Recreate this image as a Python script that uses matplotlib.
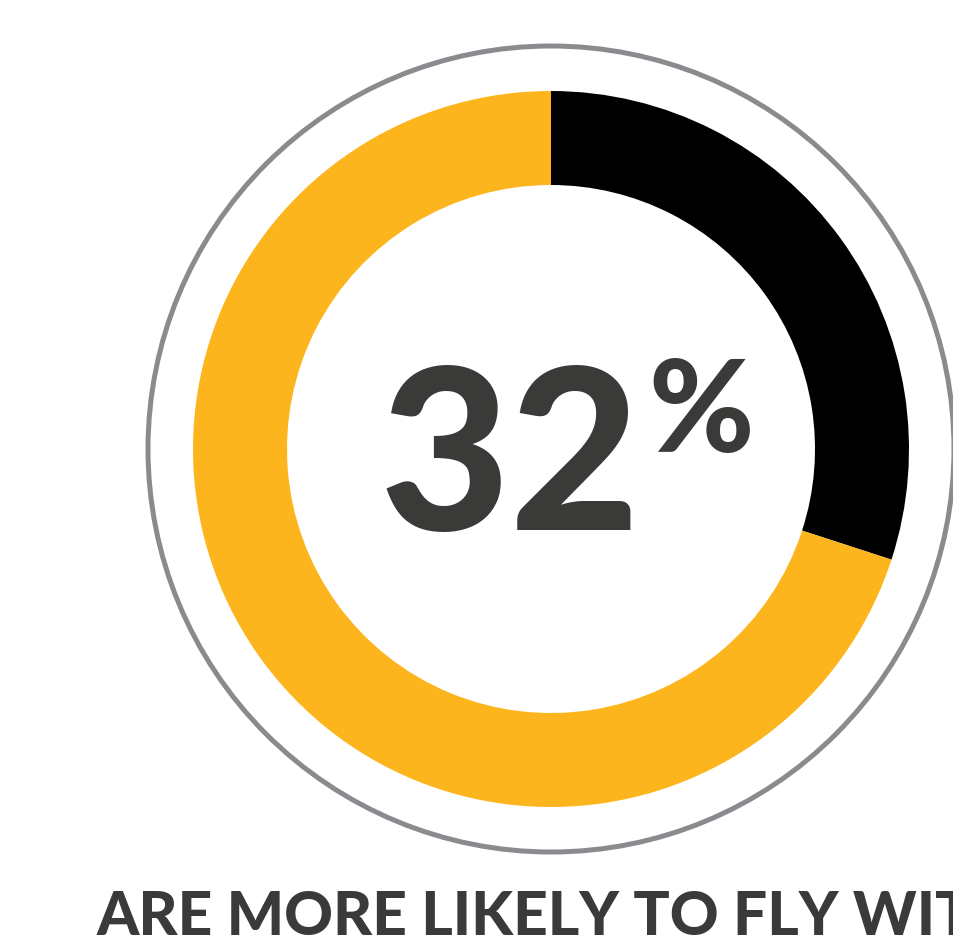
import matplotlib
matplotlib.use("Agg")
import matplotlib.pyplot as plt
from matplotlib.patches import Circle

labels = ["more likely", "other"]
shares = [30, 70]
colors = ["#000000", "#fdb51e"]
big_label = "32"
caption = "ARE MORE LIKELY TO FLY WIT"

W, H = 954, 952
fig = plt.figure(figsize=(W / 100, H / 100), dpi=100)
ax = fig.add_axes([0, 0, 1, 1])

cx, cy = 551, H - 449

ax.add_patch(Circle((cx, cy), 403, fill=False, edgecolor="#8b8b8f", linewidth=3.6))

ax.pie(shares, colors=colors, startangle=90, counterclock=False,
       center=(cx, cy), radius=358, wedgeprops=dict(width=94, linewidth=0),
       frame=True)
ax.set_xlim(0, W)
ax.set_ylim(0, H)
ax.set_aspect("equal")
ax.axis("off")

txt_color = "#3a3b38"
ax.text(510, H - 530, big_label, ha="center", va="baseline", fontsize=162,
        fontweight="black", family="Lato", color=txt_color)
ax.text(648, H - 452, "%", ha="left", va="baseline", fontsize=92,
        fontweight="black", family="Lato", color=txt_color)

ax.text(97, H - 935, caption, ha="left", va="baseline", fontsize=43.5,
        fontweight="black", family="Lato", color=txt_color)

fig.savefig("out.png", dpi=100)
